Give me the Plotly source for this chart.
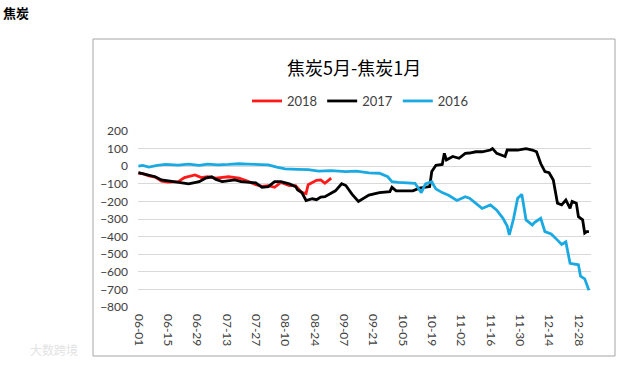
import plotly.graph_objects as go

# ---------------- data (month-day, value) ----------------
dates_2018 = ["06-01","06-03","06-06","06-09","06-12","06-15","06-20","06-23","06-28","07-01",
              "07-04","07-08","07-14","07-19","07-23","07-27","07-30","08-02","08-05","08-08",
              "08-12","08-15","08-18","08-20","08-21","08-25","08-27","08-29","09-01"]
vals_2018 = [-40,-42,-55,-62,-85,-90,-88,-65,-50,-65,
             -60,-68,-60,-68,-85,-105,-115,-110,-120,-92,
             -110,-110,-150,-155,-105,-80,-78,-97,-68]

dates_2017 = ["06-01","06-03","06-06","06-09","06-12","06-18","06-21","06-25","06-30","07-03",
              "07-06","07-08","07-11","07-14","07-17","07-20","07-27","07-30","08-02","08-05",
              "08-08","08-12","08-15","08-16","08-18","08-20","08-23","08-25","08-27","08-29",
              "09-03","09-06","09-08","09-11","09-13","09-14","09-19","09-24","09-29","09-30",
              "10-02","10-10","10-13","10-18","10-19","10-21","10-24","10-25","10-26","10-29",
              "11-01","11-04","11-06","11-09","11-12","11-16","11-17","11-19","11-23","11-24",
              "11-29","12-03","12-06","12-08","12-10","12-12","12-14","12-16","12-18","12-20",
              "12-22","12-24","12-25","12-27","12-28","12-30","12-31","01-01","01-02"]
vals_2017 = [-37,-42,-50,-60,-78,-90,-95,-100,-88,-68,
             -60,-75,-88,-85,-78,-88,-95,-120,-116,-88,
             -88,-100,-116,-135,-150,-195,-185,-190,-175,-173,
             -140,-100,-110,-160,-190,-200,-164,-150,-145,-120,
             -140,-140,-125,-116,-30,5,10,73,35,55,
             45,73,75,82,82,92,100,73,55,92,
             92,100,92,82,15,-31,-37,-78,-210,-220,
             -192,-240,-200,-210,-287,-305,-380,-372,-372]

dates_2016 = ["06-01","06-03","06-06","06-10","06-14","06-20","06-25","06-30","07-04","07-09",
              "07-14","07-19","07-23","07-28","08-02","08-06","08-10","08-16","08-21","08-26",
              "09-01","09-08","09-13","09-19","09-24","09-28","09-30","10-03","10-11","10-14",
              "10-16","10-19","10-21","10-24","10-27","10-31","11-02","11-04","11-06","11-09",
              "11-12","11-16","11-19","11-22","11-24","11-25","11-27","11-29","12-01","12-03",
              "12-06","12-07","12-10","12-12","12-15","12-18","12-20","12-22","12-24","12-28",
              "12-29","12-31","01-02"]
vals_2016 = [0,5,-5,5,10,6,12,5,12,8,
             10,14,12,8,8,-5,-15,-18,-20,-28,
             -25,-31,-28,-38,-40,-60,-88,-92,-97,-150,
             -100,-88,-130,-150,-165,-195,-185,-173,-182,-210,
             -240,-220,-250,-296,-340,-391,-300,-182,-160,-305,
             -334,-320,-296,-372,-385,-420,-445,-430,-552,-560,
             -625,-640,-705]

series_names = ["2018", "2017", "2016"]
series_colors = ["#FF1A1A", "#000000", "#1BA9E2"]
y_ticks = list(range(-800, 201, 100))
title_text = "焦炭5月-焦炭1月"
corner_text = "焦炭"


def full_date(md):
    month = int(md[:2])
    year = 2000 if month >= 6 else 2001
    return f"{year}-{md}"


W, H = 635, 367
PL, PR, PT, PB = 138, 591, 131, 307  # plot area in pixels


def px(x):
    return (x - PL) / (PR - PL)


def py(y):
    return (PB - y) / (PB - PT)


fig = go.Figure()
for name, color, d, v in zip(series_names, series_colors,
                             [dates_2018, dates_2017, dates_2016],
                             [vals_2018, vals_2017, vals_2016]):
    fig.add_trace(go.Scatter(
        x=[full_date(s) for s in d], y=v, name=name, mode="lines",
        line=dict(color=color, width=2.8), hoverinfo="skip"))

fig.update_layout(
    width=W, height=H,
    margin=dict(l=PL, r=W - PR, t=PT, b=H - PB, pad=0),
    paper_bgcolor="white", plot_bgcolor="white",
    font=dict(family="Lato, 'Noto Sans CJK SC', sans-serif", color="#404040", size=12),
    showlegend=True,
    legend=dict(orientation="h", x=px(247), y=py(101), xanchor="left", yanchor="middle",
                font=dict(size=13, color="#404040"), bgcolor="rgba(0,0,0,0)",
                itemwidth=30, tracegroupgap=0),
)

fig.update_xaxes(
    type="date",
    range=["2000-05-31 19:00", "2001-01-03 00:00"],
    tick0="2000-06-01", dtick=14 * 86400000, tickformat="%m-%d",
    tickangle=90, showgrid=False, zeroline=False, showline=False,
    ticks="", tickfont=dict(size=12, color="#404040"), ticklabelstandoff=6,
)
fig.update_yaxes(
    range=[-800, 200], tickvals=y_ticks, showgrid=True, gridcolor="#D9D9D9",
    gridwidth=1, zeroline=False, showline=False, ticks="",
    tickfont=dict(size=12, color="#404040"), ticklabelstandoff=9,
)

# outer chart frame
fig.add_shape(type="rect", xref="paper", yref="paper",
              x0=px(93), x1=px(615), y0=py(356), y1=py(39),
              line=dict(color="#A6A6A6", width=1), fillcolor="rgba(0,0,0,0)", layer="below")

fig.add_annotation(text=title_text, xref="paper", yref="paper", x=px(354), y=py(67),
                   showarrow=False, xanchor="center", yanchor="middle",
                   font=dict(family="'Noto Sans CJK SC', sans-serif", size=18, color="#000000"))
fig.add_annotation(text="<b>" + corner_text + "</b>", xref="paper", yref="paper",
                   x=px(1), y=py(12), showarrow=False, xanchor="left", yanchor="middle",
                   font=dict(family="'Noto Sans CJK SC', sans-serif", size=13, color="#000000"))
fig.add_annotation(text="大数跨境", xref="paper", yref="paper",
                   x=px(28), y=py(349), showarrow=False, xanchor="left", yanchor="middle",
                   font=dict(family="'Noto Sans CJK SC', sans-serif", size=12, color="#E3E3E3"))

fig.write_html("out.html", config={"displayModeBar": False},
               post_script="document.body.style.margin='0';")
